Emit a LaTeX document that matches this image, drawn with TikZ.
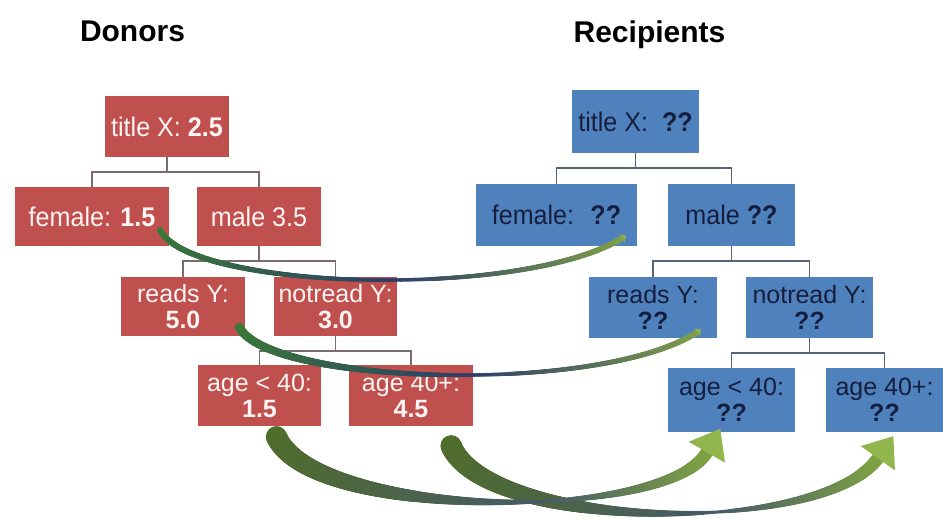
\documentclass[tikz,border=0pt]{standalone}
\usepackage{fontspec}
\setmainfont{Liberation Sans}
\newfontfamily\narrowfont[FakeStretch=0.93]{Liberation Sans}
\usetikzlibrary{calc,decorations.markings}

\definecolor{redfill}{RGB}{192,80,77}
\definecolor{bluefill}{RGB}{79,129,189}
\definecolor{redtext}{RGB}{255,244,244}
\definecolor{bluetext}{RGB}{22,30,62}
\definecolor{rtreecol}{RGB}{122,108,108}
\definecolor{btreecol}{RGB}{85,100,122}
\definecolor{thickA}{RGB}{80,110,40}
\definecolor{thickM}{RGB}{70,90,104}
\definecolor{thickB}{RGB}{128,164,66}
\definecolor{thickH}{RGB}{146,182,78}
\definecolor{thinA}{RGB}{58,120,56}
\definecolor{thinM}{RGB}{44,62,104}
\definecolor{thinB}{RGB}{128,162,74}
\definecolor{thinH}{RGB}{140,172,80}

\newcommand\fatparams[8]{\def\fRa{#1}\def\fRm{#2}\def\fRb{#3}\def\fTm{#4}\def\fL{#5}\def\fW{#6}\def\fSkip{#7}\def\fStep{#8}}
\newcommand\fatcolors[4]{\colorlet{fcA}{#1}\colorlet{fcM}{#2}\colorlet{fcB}{#3}\colorlet{fcH}{#4}}
\newcommand\drawfat[1]{%
 \path[decorate,decoration={markings,
   mark=between positions \fSkip\space and 1 step \fStep\space with {%
     \pgfmathsetmacro\myt{min(1,\pgfkeysvalueof{/pgf/decoration/mark info/distance from start}/\pgfdecoratedpathlength)}%
     \pgfmathsetmacro\ua{max(0,1-\myt/\fTm)}%
     \pgfmathsetmacro\ub{max(0,(\myt-\fTm)/(1-\fTm))}%
     \pgfmathsetmacro\myr{\fRm+(\fRa-\fRm)*\ua+(\fRb-\fRm)*\ub}%
     \ifdim\ua pt>0pt
       \pgfmathsetmacro\myp{100*\ua}\colorlet{fcur}{fcA!\myp!fcM}%
     \else
       \pgfmathsetmacro\myp{100*(1-\ub)}\colorlet{fcur}{fcM!\myp!fcB}%
     \fi
     \fill[fcur] (0,0) circle[radius=\myr pt];}
 }] #1;
 \path[decorate,decoration={markings,
   mark=at position 0.9999 with {\fill[fcH] (\fL,0) -- (0,\fW) -- (0,-\fW) -- cycle;}
 }] #1;}

\tikzset{
  titletext/.style={font=\fontsize{30}{36}\selectfont\bfseries, text=black, inner sep=0pt, anchor=base},
  rbox/.style={fill=redfill, text=redtext, inner sep=0pt, align=center},
  bbox/.style={fill=bluefill, text=bluetext, inner sep=0pt, align=center},
  oneline/.style={font=\narrowfont\fontsize{27}{30}\selectfont},
  twoline/.style={font=\fontsize{25}{26}\selectfont},
  rtree/.style={draw=rtreecol, line width=1.4pt},
  btree/.style={draw=btreecol, line width=1.4pt}
}

\begin{document}
\begin{tikzpicture}[x=1pt,y=-1pt]
\useasboundingbox[fill=white] (0,0) rectangle (943,518);

% titles
\node[titletext] (tdon) at (132.5,42) {Donors};
\node[titletext] (trec) at (649.5,43) {Recipients};

% donor boxes
\node[rbox,oneline,minimum width=124pt,minimum height=61pt] (rtitle) at (167,126.5) {title X: \textbf{2.5}};
\node[rbox,oneline,minimum width=154pt,minimum height=59pt] (rfemale) at (92,216.5) {female: \textbf{1.5}};
\node[rbox,oneline,minimum width=124pt,minimum height=59pt] (rmale) at (259,216.5) {male 3.5};
\node[rbox,twoline,minimum width=124pt,minimum height=59pt] (rreads) at (183,306.5) {reads Y:\\\textbf{5.0}};
\node[rbox,twoline,minimum width=123pt,minimum height=59pt] (rnot) at (335.5,306.5) {notread Y:\\\textbf{3.0}};
\node[rbox,twoline,minimum width=123pt,minimum height=61pt] (rage1) at (259.5,395.5) {age {<} 40:\\\textbf{1.5}};
\node[rbox,twoline,minimum width=124pt,minimum height=61pt] (rage2) at (411,395.5) {age 40+:\\\textbf{4.5}};

% recipient boxes
\node[bbox,oneline,minimum width=127pt,minimum height=63pt] (btitle) at (635.5,121.5) {title X:~ \textbf{??}};
\node[bbox,oneline,minimum width=161pt,minimum height=62pt] (bfemale) at (556.5,215) {female:~ \textbf{??}};
\node[bbox,oneline,minimum width=127pt,minimum height=62pt] (bmale) at (731.5,215) {male \textbf{??}};
\node[bbox,twoline,minimum width=128pt,minimum height=61pt] (breads) at (653,307.5) {reads Y:\\\textbf{??}};
\node[bbox,twoline,minimum width=127pt,minimum height=61pt] (bnot) at (809.5,307.5) {notread Y:\\\textbf{??}};
\node[bbox,twoline,minimum width=127pt,minimum height=64pt] (bage1) at (731.5,400) {age {<} 40:\\\textbf{??}};
\node[bbox,twoline,minimum width=117pt,minimum height=64pt] (bage2) at (884.5,400) {age 40+:\\\textbf{??}};

% tree connectors
\draw[rtree] (rtitle.south) -- ++(0,15) -| (rfemale.north);
\draw[rtree] (rtitle.south) -- ++(0,15) -| (rmale.north);
\draw[rtree] (rmale.south) -- ++(0,15) -| (rreads.north);
\draw[rtree] (rmale.south) -- ++(0,15) -| (rnot.north);
\draw[rtree] (rnot.south) -- ++(0,15) -| (rage1.north);
\draw[rtree] (rnot.south) -- ++(0,15) -| (rage2.north);
\draw[btree] (btitle.south) -- ++(0,15) -| (bfemale.north);
\draw[btree] (btitle.south) -- ++(0,15) -| (bmale.north);
\draw[btree] (bmale.south) -- ++(0,15) -| (breads.north);
\draw[btree] (bmale.south) -- ++(0,15) -| (bnot.north);
\draw[btree] (bnot.south) -- ++(0,15) -| (bage1.north);
\draw[btree] (bnot.south) -- ++(0,15) -| (bage2.north);

% thick arrows
\fatparams{11}{1.6}{6.5}{0.62}{27}{21}{11pt}{1pt}
\fatcolors{thickA}{thickM}{thickB}{thickH}
\drawfat{($(rage2.south east)+(-25,9)$) .. controls (460,530) and (820,540) .. ($(bage2.south west)+(52,26)$)}
\drawfat{($(rage1.south)+(14,0)$) .. controls (285,520) and (665,525) .. ($(bage1.south west)+(39,20)$)}

% thin arrows
\fatparams{3.2}{1.8}{3}{0.5}{5}{4.5}{0pt}{0.7pt}
\fatcolors{thinA}{thinM}{thinB}{thinH}
\drawfat{($(rfemale.south east)+(-9,-16)$) .. controls (190,290) and (520,300) .. ($(bfemale.south east)+(-15,-8)$)}
\fatparams{4.5}{1.8}{3}{0.5}{5}{4.5}{0pt}{0.7pt}
\drawfat{($(rreads.south east)+(-6,-9)$) .. controls (270,385) and (600,395) .. ($(breads.south east)+(-20,-6)$)}
\end{tikzpicture}
\end{document}
